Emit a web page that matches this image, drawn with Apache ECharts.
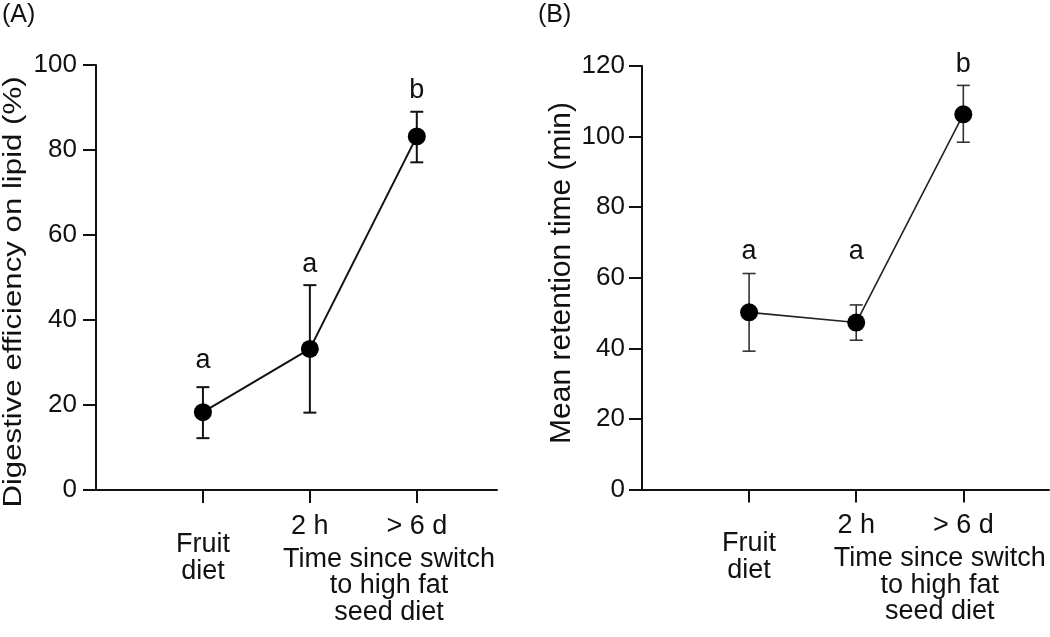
<!DOCTYPE html>
<html>
<head>
<meta charset="utf-8">
<script src="https://cdn.jsdelivr.net/npm/echarts@6/dist/echarts.min.js"></script>
<style>html,body{margin:0;padding:0;background:#fff;}#c{width:1050px;height:637px;}</style>
</head>
<body>
<div id="c"></div>
<script>
// ---- data ----
const xPositions = [1, 2, 3];
const xTickLabels = ['Fruit\ndiet', '2 h', '> 6 d'];
const xGroupTitle = 'Time since switch\nto high fat\nseed diet';
const xGroupTitlePos = [2.74, 2.78];

const lipidMean = [18.3, 33.2, 83.2];
const lipidLow = [12.2, 18.2, 77.1];
const lipidHigh = [24.2, 48.2, 89.0];
const lipidLetters = ['a', 'a', 'b'];
const lipidLetterY = [30.5, 53, 94];

const retMean = [50.2, 47.3, 106.3];
const retLow = [39.2, 42.3, 98.4];
const retHigh = [61.2, 52.3, 114.5];
const retLetters = ['a', 'a', 'b'];
const retLetterY = [67.5, 67.5, 120.3];

const yTicksA = {min: 0, max: 100, interval: 20};
const yTicksB = {min: 0, max: 120, interval: 20};

// ---- chart ----
const FONT = "'Liberation Sans', Arial, Helvetica, sans-serif";
const INK = '#111';
const chart = echarts.init(document.getElementById('c'), null, {renderer: 'canvas'});

function xLabelFormatter(v) {
  const idx = xPositions.indexOf(v);
  if (idx < 0) return '';
  const lines = xTickLabels[idx].split('\n');
  const body = lines.map(l => '{t|' + l + '}').join('\n');
  return lines.length > 1 ? '{s| }\n' + body : body;
}

function makeXAxis(gi, max) {
  return {
    type: 'value', gridIndex: gi, min: 0, max: max,
    axisLine: {show: true, lineStyle: {color: INK, width: 2}},
    axisTick: {show: true, customValues: xPositions, length: 13, lineStyle: {color: INK, width: 2}},
    axisLabel: {
      show: true, customValues: xPositions, margin: 23, formatter: xLabelFormatter,
      color: INK, fontFamily: FONT, fontSize: 27,
      rich: {
        s: {fontSize: 1, lineHeight: 18},
        t: {fontSize: 27, lineHeight: 27, color: INK, fontFamily: FONT}
      }
    },
    splitLine: {show: false}
  };
}
function makeYAxis(gi, t, margin) {
  return {
    type: 'value', gridIndex: gi, min: t.min, max: t.max, interval: t.interval,
    axisLine: {show: true, lineStyle: {color: INK, width: 2}},
    axisTick: {show: true, length: 13, lineStyle: {color: INK, width: 2}},
    axisLabel: {color: INK, fontFamily: FONT, fontSize: 26, margin: margin},
    splitLine: {show: false}
  };
}

function errorSeries(gi, low, high, color, width) {
  return {
    type: 'custom', xAxisIndex: gi, yAxisIndex: gi, z: 3,
    data: xPositions.map((x, i) => [x, low[i], high[i]]),
    renderItem: function (params, api) {
      const pl = api.coord([api.value(0), api.value(1)]);
      const ph = api.coord([api.value(0), api.value(2)]);
      const hw = 6.5;
      const st = {stroke: color, lineWidth: width};
      return {type: 'group', children: [
        {type: 'line', shape: {x1: pl[0], y1: pl[1], x2: ph[0], y2: ph[1]}, style: st},
        {type: 'line', shape: {x1: pl[0] - hw, y1: pl[1], x2: pl[0] + hw, y2: pl[1]}, style: st},
        {type: 'line', shape: {x1: ph[0] - hw, y1: ph[1], x2: ph[0] + hw, y2: ph[1]}, style: st}
      ]};
    }
  };
}
function meanSeries(gi, mean, color, width) {
  return {
    type: 'line', xAxisIndex: gi, yAxisIndex: gi, z: 4,
    data: xPositions.map((x, i) => [x, mean[i]]),
    symbol: 'circle', symbolSize: 18, showSymbol: true,
    itemStyle: {color: '#000'}, lineStyle: {color: color, width: width},
    emphasis: {disabled: true}
  };
}
function letterSeries(gi, letters, ys) {
  return {
    type: 'custom', xAxisIndex: gi, yAxisIndex: gi, z: 5, clip: false,
    data: xPositions.map((x, i) => [x, ys[i]]),
    renderItem: function (params, api) {
      const p = api.coord([api.value(0), api.value(1)]);
      return {type: 'text', x: p[0], y: p[1], style: {
        text: letters[params.dataIndex], fill: INK, fontFamily: FONT, fontSize: 27,
        align: 'center', verticalAlign: 'middle', textAlign: 'center', textVerticalAlign: 'middle'
      }};
    }
  };
}
function groupTitleSeries(gi, xpos) {
  return {
    type: 'custom', xAxisIndex: gi, yAxisIndex: gi, clip: false,
    data: [[xpos, 0]],
    renderItem: function (params, api) {
      const p = api.coord([api.value(0), api.value(1)]);
      return {type: 'text', x: p[0], y: p[1] + 56, style: {
        text: xGroupTitle, fill: INK, fontFamily: FONT, fontSize: 27, lineHeight: 26.5,
        align: 'center', verticalAlign: 'top', textAlign: 'center', textVerticalAlign: 'top'
      }};
    }
  };
}

const option = {
  backgroundColor: '#fff',
  animation: false,
  grid: [
    {left: 96, top: 65, width: 401, height: 425},
    {left: 642, top: 66, width: 407, height: 423.5}
  ],
  xAxis: [makeXAxis(0, 3.75), makeXAxis(1, 3.8)],
  yAxis: [makeYAxis(0, yTicksA, 19), makeYAxis(1, yTicksB, 17)],
  graphic: [
    {type: 'text', x: 2, y: 15, style: {text: '(A)', fill: INK, fontFamily: FONT, fontSize: 25,
      textVerticalAlign: 'middle', verticalAlign: 'middle'}},
    {type: 'text', x: 538, y: 15, style: {text: '(B)', fill: INK, fontFamily: FONT, fontSize: 25,
      textVerticalAlign: 'middle', verticalAlign: 'middle'}},
    {type: 'text', x: 14, y: 292, rotation: Math.PI / 2, scaleX: 1.2, style: {
      text: 'Digestive efficiency on lipid (%)', fill: INK, fontFamily: FONT, fontSize: 26,
      textAlign: 'center', align: 'center', textVerticalAlign: 'middle', verticalAlign: 'middle'}},
    {type: 'text', x: 562, y: 273, rotation: Math.PI / 2, style: {
      text: 'Mean retention time (min)', fill: INK, fontFamily: FONT, fontSize: 30,
      textAlign: 'center', align: 'center', textVerticalAlign: 'middle', verticalAlign: 'middle'}}
  ],
  series: [
    errorSeries(0, lipidLow, lipidHigh, '#111', 2),
    meanSeries(0, lipidMean, '#111', 2),
    letterSeries(0, lipidLetters, lipidLetterY),
    groupTitleSeries(0, xGroupTitlePos[0]),
    errorSeries(1, retLow, retHigh, '#333', 1.6),
    meanSeries(1, retMean, '#222', 1.6),
    letterSeries(1, retLetters, retLetterY),
    groupTitleSeries(1, xGroupTitlePos[1])
  ]
};
chart.setOption(option);
</script>
</body>
</html>
